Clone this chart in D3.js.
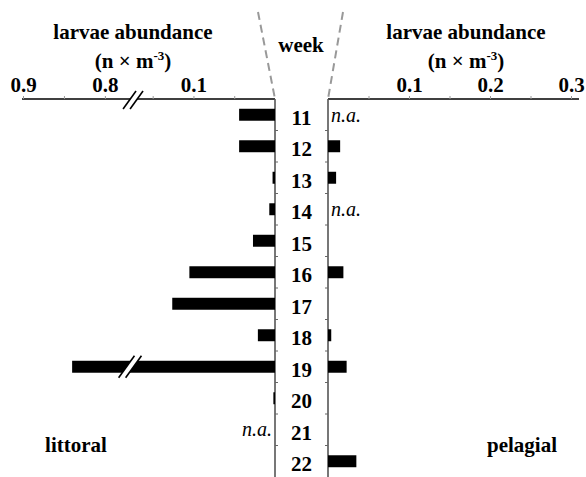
<!DOCTYPE html>
<html>
<head>
<meta charset="utf-8">
<script src="https://cdn.jsdelivr.net/npm/d3@7"></script>
<style>
  body { margin: 0; background: #fff; }
</style>
</head>
<body>
<div id="chart"></div>
<script>
// Data (null = n.a.)
const weeks = [11, 12, 13, 14, 15, 16, 17, 18, 19, 20, 21, 22];
const littoral = [0.044, 0.044, 0.003, 0.007, 0.027, 0.105, 0.126, 0.021, 0.84, 0.002, null, 0];
const pelagial = [null, 0.015, 0.01, null, 0, 0.019, 0, 0.004, 0.023, 0, 0, 0.035];
const leftTicks = [0.05, 0.1, 0.15, 0.8, 0.85, 0.9];
const leftLabels = [0.1, 0.8, 0.9];
const rightTicks = [0.05, 0.1, 0.15, 0.2, 0.25, 0.3];
const rightLabels = [0.1, 0.2, 0.3];

const width = 586, height = 477;
const axisY = 99;
const leftX0 = 275, rightX0 = 328;
const serif = "'Liberation Serif', 'Times New Roman', Times, 'DejaVu Serif', serif";
const fs = 21;

const svg = d3.select("#chart").append("svg")
    .attr("width", width)
    .attr("height", height)
    .attr("font-family", serif);

// Scales
const y = d3.scaleBand()
    .domain(weeks)
    .range([axisY, axisY + 12 * 31.5])
    .paddingInner(0.62)
    .paddingOuter(0.31);

const yRow = d3.scaleBand().domain(weeks).range([axisY, axisY + 12 * 31.5]);

// broken left scale: 0..0.168 then 0.762..0.9
const xLeft = d3.scaleLinear()
    .domain([0, 0.168, 0.762, 0.9])
    .range([leftX0, 138, 136, 23]);

const xRight = d3.scaleLinear()
    .domain([0, 0.3])
    .range([rightX0, 571]);

// Dashed guide lines around the week column
svg.append("line")
    .attr("x1", 258).attr("y1", 12).attr("x2", leftX0).attr("y2", axisY)
    .attr("stroke", "#999").attr("stroke-width", 2).attr("stroke-dasharray", "8,5");
svg.append("line")
    .attr("x1", 343).attr("y1", 12).attr("x2", rightX0).attr("y2", axisY)
    .attr("stroke", "#999").attr("stroke-width", 2).attr("stroke-dasharray", "8,5");

// Horizontal axes
const fmt = d => d3.format(".1f")(d);
const leftAxis = d3.axisTop(xLeft)
    .tickValues(leftTicks)
    .tickSize(3)
    .tickFormat(d => leftLabels.includes(d) ? fmt(d) : "");
const gl = svg.append("g")
    .attr("transform", `translate(0,${axisY})`)
    .call(leftAxis);
gl.select(".domain").attr("d", `M22,0H${leftX0}`).attr("stroke", "#000").attr("stroke-width", 1.6);

const rightAxis = d3.axisTop(xRight)
    .tickValues(rightTicks)
    .tickSize(3)
    .tickFormat(d => rightLabels.includes(d) ? fmt(d) : "");
const gr = svg.append("g")
    .attr("transform", `translate(0,${axisY})`)
    .call(rightAxis);
gr.select(".domain").attr("d", `M${rightX0},0H579`).attr("stroke", "#000").attr("stroke-width", 1.6);

svg.selectAll("g").attr("font-family", serif);
svg.selectAll(".tick line").attr("stroke", "#999");
svg.selectAll(".tick text")
    .attr("font-size", fs)
    .attr("font-weight", "bold")
    .attr("fill", "#000")
    .attr("dy", "-0.05em");

// Axis break marks
function breakMark(cx, cy, h) {
    const dx = h * 0.36;
    const g = svg.append("g");
    g.append("polygon")
        .attr("points", [[cx - 3 - dx, cy + h / 2], [cx - 3 + dx, cy - h / 2], [cx + 4 + dx, cy - h / 2], [cx + 4 - dx, cy + h / 2]].join(" "))
        .attr("fill", "#fff");
    [-3, 4].forEach(o => {
        g.append("line")
            .attr("x1", cx + o - dx).attr("y1", cy + h / 2)
            .attr("x2", cx + o + dx).attr("y2", cy - h / 2)
            .attr("stroke", "#000").attr("stroke-width", 1.6);
    });
}
breakMark(xLeft(0.765) - 1, axisY + 1, 18);

// Vertical axes
[leftX0, rightX0].forEach(x => {
    svg.append("line")
        .attr("x1", x).attr("y1", axisY).attr("x2", x).attr("y2", height)
        .attr("stroke", "#555").attr("stroke-width", 1.6);
});
// small row ticks pointing into the week column
weeks.slice(1).forEach(w => {
    const yy = yRow(w);
    svg.append("line").attr("x1", leftX0).attr("x2", leftX0 + 3).attr("y1", yy).attr("y2", yy)
        .attr("stroke", "#666").attr("stroke-width", 1);
    svg.append("line").attr("x1", rightX0 - 3).attr("x2", rightX0).attr("y1", yy).attr("y2", yy)
        .attr("stroke", "#666").attr("stroke-width", 1);
});

// Bars
const rows = weeks.map((w, i) => ({ week: w, lit: littoral[i], pel: pelagial[i] }));

svg.selectAll(".lit")
    .data(rows.filter(d => d.lit !== null && d.lit > 0))
    .enter().append("rect")
    .attr("class", "lit")
    .attr("x", d => xLeft(d.lit))
    .attr("y", d => y(d.week))
    .attr("width", d => leftX0 - xLeft(d.lit))
    .attr("height", y.bandwidth())
    .attr("fill", "#000");

svg.selectAll(".pel")
    .data(rows.filter(d => d.pel !== null && d.pel > 0))
    .enter().append("rect")
    .attr("class", "pel")
    .attr("x", rightX0)
    .attr("y", d => y(d.week))
    .attr("width", d => xRight(d.pel) - rightX0)
    .attr("height", y.bandwidth())
    .attr("fill", "#000");

// break on the long bar
rows.filter(d => d.lit !== null && d.lit > 0.168).forEach(d => {
    breakMark(xLeft(0.765) - 4, y(d.week) + y.bandwidth() / 2, 22);
});

// n.a. labels
rows.forEach(d => {
    const cy = yRow(d.week) + yRow.bandwidth() / 2;
    if (d.lit === null) {
        svg.append("text").attr("x", leftX0 - 3).attr("y", cy + 6)
            .attr("text-anchor", "end").attr("font-size", 20).attr("font-style", "italic")
            .text("n.a.");
    }
    if (d.pel === null) {
        svg.append("text").attr("x", rightX0 + 3).attr("y", cy + 7)
            .attr("text-anchor", "start").attr("font-size", 20).attr("font-style", "italic")
            .text("n.a.");
    }
});

// Week labels
svg.selectAll(".week")
    .data(weeks)
    .enter().append("text")
    .attr("class", "week")
    .attr("x", (leftX0 + rightX0) / 2)
    .attr("y", d => yRow(d) + yRow.bandwidth() / 2 + 10)
    .attr("text-anchor", "middle")
    .attr("font-size", fs)
    .attr("font-weight", "bold")
    .text(d => d);

// Titles
function title(x, yy, t) {
    return svg.append("text").attr("x", x).attr("y", yy)
        .attr("text-anchor", "middle").attr("font-size", fs).attr("font-weight", "bold")
        .text(t);
}
title(301, 52, "week");
[133, 466].forEach(cx => {
    title(cx, 39, "larvae abundance");
    const t = title(cx, 68, "(n × m");
    t.append("tspan").attr("font-size", 13).attr("dy", -8).text("-3");
    t.append("tspan").attr("dy", 8).text(")");
});
title(76, 452, "littoral");
title(522, 452, "pelagial");
</script>
</body>
</html>
